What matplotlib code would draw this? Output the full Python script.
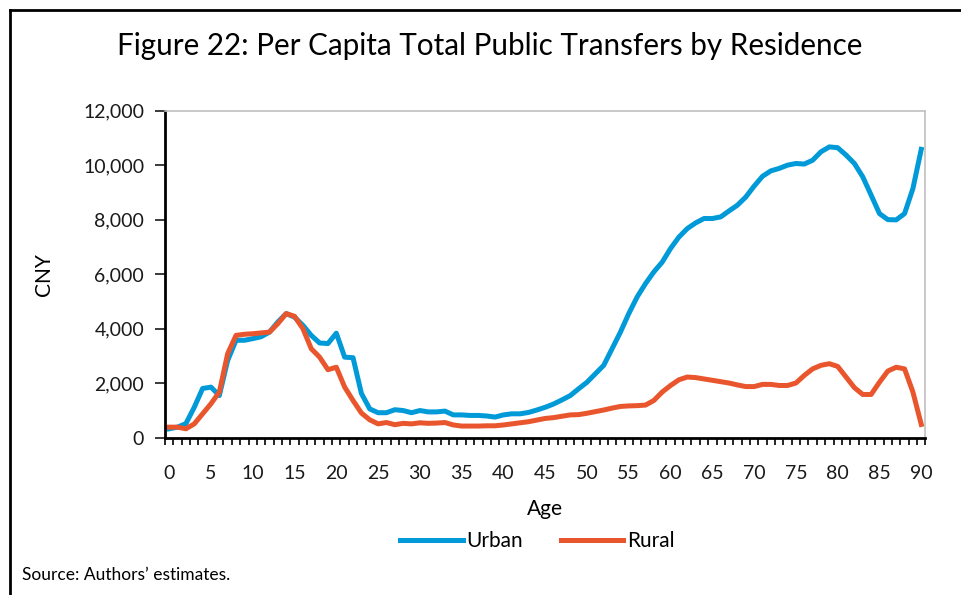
import numpy as np
import matplotlib
matplotlib.use("Agg")
import matplotlib.pyplot as plt
from matplotlib.ticker import FuncFormatter, MultipleLocator
from matplotlib.lines import Line2D

plt.rcParams['font.family'] = ['Lato', 'DejaVu Sans']

# Per capita total public transfers (CNY), ages 0-90
ages = list(range(0, 91))
urban = [320, 380, 510, 1110, 1800, 1850, 1540, 2830, 3570, 3570,
         3630, 3700, 3870, 4240, 4550, 4420, 4120, 3750, 3470, 3450,
         3830, 2950, 2930, 1620, 1050, 910, 910, 1020, 990, 910,
         990, 940, 940, 970, 830, 830, 810, 810, 790, 750,
         830, 870, 870, 920, 1010, 1110, 1230, 1380, 1540, 1790,
         2030, 2340, 2650, 3260, 3870, 4550, 5160, 5650, 6080, 6440,
         6940, 7360, 7670, 7880, 8040, 8040, 8100, 8320, 8530, 8830,
         9230, 9590, 9790, 9880, 10000, 10060, 10040, 10180, 10490, 10670,
         10640, 10370, 10060, 9570, 8900, 8220, 8000, 7990, 8220, 9140,
         10580]
rural = [380, 380, 320, 500, 870, 1240, 1670, 3080, 3750, 3790,
         3810, 3840, 3870, 4180, 4550, 4450, 4000, 3260, 2950, 2490,
         2580, 1850, 1360, 900, 650, 500, 550, 470, 520, 500,
         540, 520, 530, 550, 460, 420, 420, 420, 430, 430,
         460, 500, 540, 580, 640, 700, 730, 780, 830, 840,
         890, 950, 1010, 1080, 1140, 1160, 1170, 1190, 1360, 1670,
         1910, 2120, 2220, 2200, 2150, 2100, 2050, 2000, 1930, 1870,
         1870, 1950, 1950, 1910, 1910, 2000, 2280, 2520, 2650, 2710,
         2610, 2220, 1830, 1580, 1580, 2030, 2440, 2580, 2520, 1670,
         480]

urban_color = "#009ad8"
rural_color = "#e9562d"

fig = plt.figure(figsize=(9.61, 5.95), dpi=100)
ax = fig.add_axes([0.1717, 0.2647, 0.7913, 0.5493])

ax.plot(ages, urban, color=urban_color, lw=3.6, solid_joinstyle='round', label="Urban")
ax.plot(ages, rural, color=rural_color, lw=3.6, solid_joinstyle='round', label="Rural")

ax.set_xlim(-0.5, 90.5)
ax.set_ylim(0, 12000)
ax.set_xticks(range(0, 91, 5))
ax.xaxis.set_minor_locator(MultipleLocator(1, offset=0.5))
ax.tick_params(axis='x', which='major', length=0, labelsize=14, pad=20, colors='#1a1a1a')
ax.tick_params(axis='x', which='minor', length=5, width=1.2, direction='out')
ax.yaxis.set_major_locator(MultipleLocator(2000))
ax.yaxis.set_major_formatter(FuncFormatter(lambda v, p: f"{int(v):,}"))
ax.tick_params(axis='y', length=7, width=1.2, labelsize=14, pad=8, colors='#1a1a1a')

for s in ['left', 'bottom']:
    ax.spines[s].set_linewidth(2)
    ax.spines[s].set_color('black')
for s in ['top', 'right']:
    ax.spines[s].set_linewidth(1.2)
    ax.spines[s].set_color('#c0c0c0')

ax.set_xlabel("Age", fontsize=15, labelpad=12)
ax.set_ylabel("CNY", fontsize=15, labelpad=21)

ax.legend(loc='upper center', bbox_to_anchor=(0.49, -0.262), ncol=2, frameon=False,
          fontsize=15, handlelength=3.0, handletextpad=0.2, columnspacing=1.8,
          borderaxespad=0)

fig.text(0.51, 0.922, "Figure 22: Per Capita Total Public Transfers by Residence",
         ha='center', va='center', fontsize=21.3)
fig.text(0.023, 0.033, "Source: Authors\u2019 estimates.", ha='left', va='center', fontsize=12.5)

# outer frame (left and top edges)
fig.add_artist(Line2D([0.0105, 0.0105], [0.0, 0.983], transform=fig.transFigure,
                      color='black', lw=2))
fig.add_artist(Line2D([0.0105, 1.0], [0.983, 0.983], transform=fig.transFigure,
                      color='black', lw=2))

fig.savefig("out.png", dpi=100)
